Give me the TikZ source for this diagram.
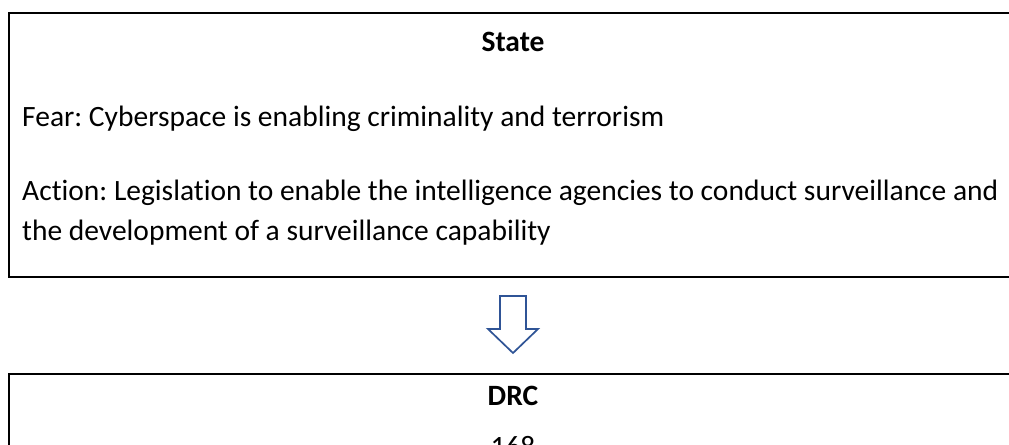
\documentclass[tikz,border=0pt]{standalone}
\usepackage{fontspec}
\setmainfont{Carlito}[Ligatures=NoCommon]
\frenchspacing
\definecolor{arrowblue}{RGB}{47,84,150}
\begin{document}
\begin{tikzpicture}[x=1bp,y=-1bp,
  frame/.style={draw, line width=2bp, rectangle, inner sep=0pt, anchor=north west},
  body/.style={anchor=base west, inner sep=0pt, font=\fontsize{29.5bp}{34bp}\selectfont},
  title/.style={anchor=base, inner sep=0pt, font=\fontsize{29.5bp}{34bp}\selectfont\bfseries},
  blockarrow/.style={draw=arrowblue, line width=1.7bp, fill=white, line join=miter}]
\useasboundingbox (0,0) rectangle (1009,445);
% upper box (runs off the right edge)
\node[frame, minimum width=1020bp, minimum height=264bp] (statebox) at (8,12) {};
\node[title] (statehead) at (513,52) {State};
\node[body] (fear) at (22,127) {Fear: Cyberspace is enabling criminality and terrorism};
\node[body] (action1) at (22,201) {Action: Legislation to enable the intelligence agencies to conduct surveillance and};
\node[body] (action2) at (22,241) {the development of a surveillance capability};
% hollow down arrow between the boxes
\draw[blockarrow] (500,296) -- (526,296) -- (526,329) -- (538,329) -- (513,353)
  -- (488,329) -- (500,329) -- cycle;
% lower box
\node[frame, minimum width=1020bp, minimum height=200bp] (drcbox) at (8,373) {};
\node[title] (drchead) at (513,405) {DRC};
\node[anchor=base, inner sep=0pt, font=\fontsize{29.5bp}{34bp}\selectfont] (pagenum) at (513,456) {168};
\end{tikzpicture}
\end{document}
